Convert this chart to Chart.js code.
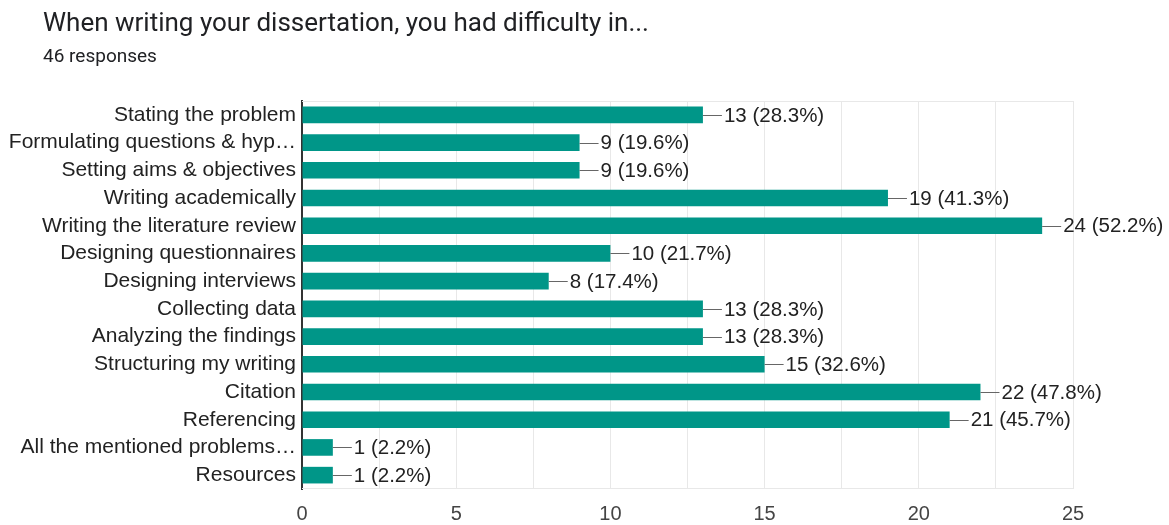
<!DOCTYPE html>
<html><head><meta charset="utf-8">
<script src="https://cdn.jsdelivr.net/npm/chart.js@4/dist/chart.umd.min.js"></script>
<style>
html,body{margin:0;padding:0;background:#fff;width:1169px;height:525px;overflow:hidden;}
#wrap{position:relative;width:1169px;height:525px;}
#title{position:absolute;left:43px;top:7px;font-family:Roboto,sans-serif;font-size:26px;color:#202124;white-space:nowrap;line-height:30px;}
#sub{position:absolute;left:43px;top:45px;font-family:Roboto,sans-serif;font-size:19px;color:#202124;white-space:nowrap;line-height:22px;}
canvas{position:absolute;left:0;top:0;}
</style></head><body>
<div id="wrap">
<canvas id="c" width="1169" height="525"></canvas>
<div id="title">When writing your dissertation, you had difficulty in...</div>
<div id="sub">46 responses</div>
</div>
<script>
const categories = ["Stating the problem","Formulating questions & hyp…","Setting aims & objectives","Writing academically","Writing the literature review","Designing questionnaires","Designing interviews","Collecting data","Analyzing the findings","Structuring my writing","Citation","Referencing","All the mentioned problems…","Resources"];
const counts = [13,9,9,19,24,10,8,13,13,15,22,21,1,1];
const percents = ["28.3%","19.6%","19.6%","41.3%","52.2%","21.7%","17.4%","28.3%","28.3%","32.6%","47.8%","45.7%","2.2%","2.2%"];
const xTicks = [0,5,10,15,20,25];

const FONT = '"Liberation Sans", Arial, sans-serif';

const labelPlugin = {
  id:'barLabels',
  afterDatasetsDraw(chart){
    const ctx = chart.ctx;
    const meta = chart.getDatasetMeta(0);
    ctx.save();
    meta.data.forEach((bar,i)=>{
      const x = bar.x, y = bar.y;
      ctx.strokeStyle = '#666';
      ctx.lineWidth = 1;
      ctx.beginPath();
      ctx.moveTo(x, Math.round(y)+0.5);
      ctx.lineTo(x+19, Math.round(y)+0.5);
      ctx.stroke();
      ctx.fillStyle = '#222';
      ctx.font = '20.5px ' + FONT;
      ctx.textBaseline = 'middle';
      ctx.textAlign = 'left';
      ctx.fillText(counts[i] + ' (' + percents[i] + ')', x+21, y+1);
    });
    ctx.restore();
  }
};

new Chart(document.getElementById('c'), {
  type:'bar',
  data:{labels:categories, datasets:[{data:counts, backgroundColor:'#009688', borderWidth:0, barPercentage:0.6, categoryPercentage:1}]},
  options:{
    indexAxis:'y', responsive:false, animation:false,
    layout:{padding:{top:101,right:96,bottom:0,left:0}},
    plugins:{legend:{display:false},tooltip:{enabled:false},title:{display:false}},
    scales:{
      x:{min:0,max:25,
        afterBuildTicks(s){ s.ticks = []; for(let v=0; v<=25; v+=2.5) s.ticks.push({value:v}); },
        afterFit(s){ s.height = 36; },
        ticks:{padding:13,color:'#444',font:{family:FONT,size:20},
          callback(v){ return xTicks.includes(v) ? String(v) : ''; }, maxRotation:0, autoSkip:false},
        grid:{color:'#e8e8e8',drawTicks:false,lineWidth:1},
        border:{display:false}
      },
      y:{
        afterFit(s){ s.width = 302; },
        ticks:{padding:6,color:'#222',font:{family:FONT,size:21},autoSkip:false},
        grid:{display:false,drawTicks:false},
        border:{display:true,color:'#333',width:2}
      }
    }
  },
  plugins:[labelPlugin,{
    id:'topBorder',
    beforeDatasetsDraw(chart){
      const {ctx,chartArea:a} = chart;
      ctx.save(); ctx.strokeStyle='#e8e8e8'; ctx.lineWidth=1;
      ctx.beginPath(); ctx.moveTo(a.left,a.top+0.5); ctx.lineTo(a.right,a.top+0.5);
      ctx.moveTo(a.left,a.bottom-0.5); ctx.lineTo(a.right,a.bottom-0.5); ctx.stroke(); ctx.restore();
    }
  }]
});
</script>
</body></html>
